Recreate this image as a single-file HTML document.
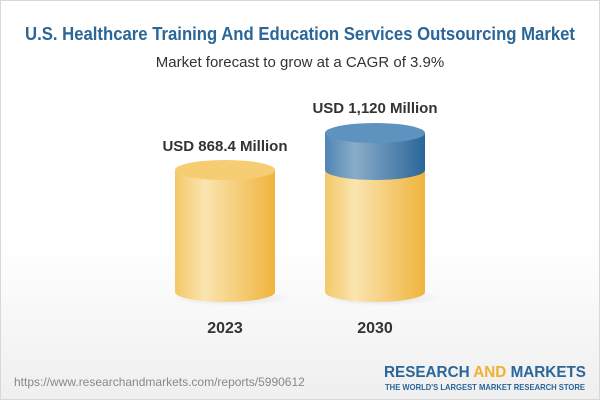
<!DOCTYPE html>
<html><head><style>
body{margin:0;width:600px;height:400px;overflow:hidden;font-family:"Liberation Sans",sans-serif;}
.wrap{position:absolute;left:0;top:0;width:598px;height:398px;border:1px solid #d8d8d8;background:linear-gradient(#ffffff 0%,#ffffff 60%,#efefef 100%);}
</style></head><body>
<div class="wrap"></div>
<svg width="600" height="400" style="position:absolute;left:0;top:0">
<defs>
<linearGradient id="y" x1="0" x2="1"><stop offset="0" stop-color="#f4c868"/><stop offset="0.3" stop-color="#fae4b0"/><stop offset="1" stop-color="#f0b43c"/></linearGradient>
<linearGradient id="b" x1="0" x2="1"><stop offset="0" stop-color="#4f86b4"/><stop offset="0.3" stop-color="#89acc9"/><stop offset="1" stop-color="#2a6699"/></linearGradient>
<radialGradient id="s"><stop offset="0" stop-color="#000" stop-opacity="0.12"/><stop offset="1" stop-color="#000" stop-opacity="0"/></radialGradient>
</defs>
<text x="300" y="40" text-anchor="middle" font-size="18.5" font-weight="bold" fill="#2b6699" font-family="Liberation Sans" textLength="550" lengthAdjust="spacingAndGlyphs">U.S. Healthcare Training And Education Services Outsourcing Market</text>
<text x="300" y="67" text-anchor="middle" font-size="15" fill="#333" font-family="Liberation Sans">Market forecast to grow at a CAGR of 3.9%</text>
<ellipse cx="232" cy="298" rx="60" ry="8" fill="url(#s)"/>
<ellipse cx="382" cy="298" rx="60" ry="8" fill="url(#s)"/>
<path d="M175 170 V292 A50 10 0 0 0 275 292 V170 Z" fill="url(#y)"/>
<ellipse cx="225" cy="170" rx="50" ry="10" fill="#f6cd72"/>
<path d="M325 170 V292 A50 10 0 0 0 425 292 V170 Z" fill="url(#y)"/>
<path d="M325 133 V170 A50 10 0 0 0 425 170 V133 Z" fill="url(#b)"/>
<ellipse cx="375" cy="133" rx="50" ry="10" fill="#5f93bf"/>
<text x="225" y="151" text-anchor="middle" font-size="15" font-weight="bold" fill="#333" font-family="Liberation Sans">USD 868.4 Million</text>
<text x="375" y="113" text-anchor="middle" font-size="15" font-weight="bold" fill="#333" font-family="Liberation Sans">USD 1,120 Million</text>
<text x="225" y="333" text-anchor="middle" font-size="16" font-weight="bold" fill="#333" font-family="Liberation Sans">2023</text>
<text x="375" y="333" text-anchor="middle" font-size="16" font-weight="bold" fill="#333" font-family="Liberation Sans">2030</text>
<text x="14" y="386" font-size="12" fill="#888" font-family="Liberation Sans">https://www.researchandmarkets.com/reports/5990612</text>
<text x="384" y="377" font-size="15.5" font-weight="bold" fill="#2a6699" font-family="Liberation Sans" textLength="202" lengthAdjust="spacingAndGlyphs">RESEARCH <tspan fill="#f0b030">AND</tspan> MARKETS</text>
<text x="385" y="390" font-size="8.5" font-weight="bold" fill="#2a6699" font-family="Liberation Sans" textLength="200" lengthAdjust="spacingAndGlyphs">THE WORLD'S LARGEST MARKET RESEARCH STORE</text>
</svg>
</body></html>
